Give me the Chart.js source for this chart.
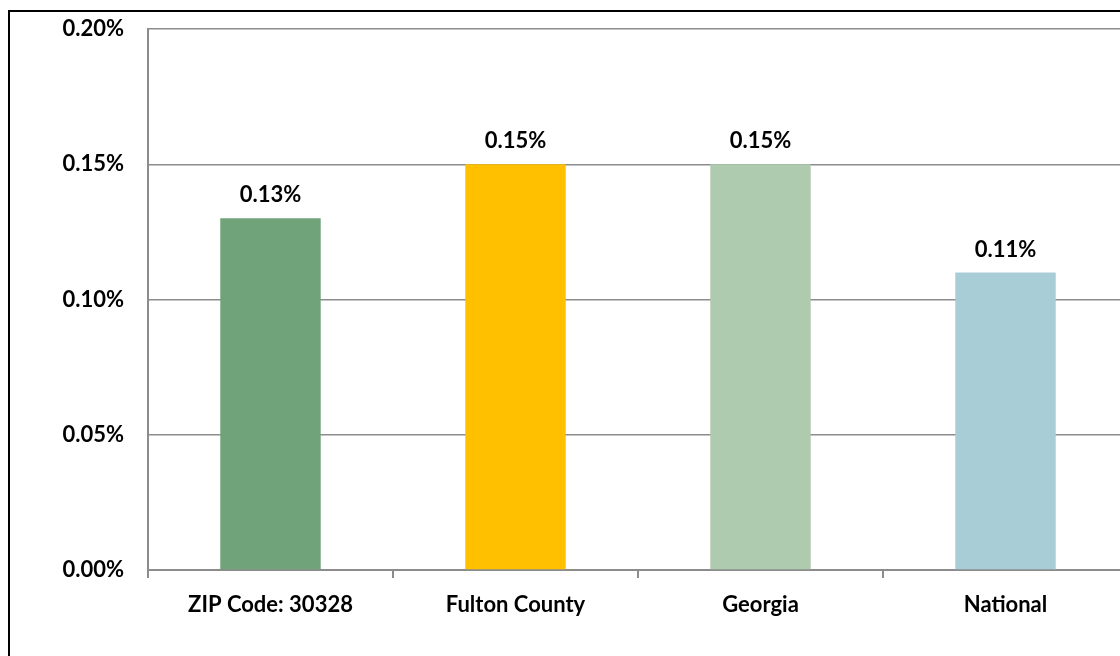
<!DOCTYPE html>
<html>
<head>
<meta charset="utf-8">
<script src="https://cdn.jsdelivr.net/npm/chart.js@4.4.1/dist/chart.umd.min.js"></script>
<style>
  html, body { margin: 0; padding: 0; background: #fff; overflow: hidden; width: 1120px; height: 656px; }
  #frame { position: absolute; left: 8px; top: 10px; width: 1200px; height: 700px; border: 2px solid #000; box-sizing: border-box; }
  #wrap { position: absolute; left: 0; top: 0; width: 1140px; height: 656px; }
</style>
</head>
<body>
<div id="frame"></div>
<div id="wrap"><canvas id="chart" width="1140" height="656"></canvas></div>
<script>
const categories = ['ZIP Code: 30328', 'Fulton County', 'Georgia', 'National'];
const rates = [0.13, 0.15, 0.15, 0.11];
const barColors = ['#71a37a', '#ffc000', '#afcbaf', '#a8cdd6'];
const yTicks = [0, 0.05, 0.10, 0.15, 0.20];

const FONT = 'Lato, "Liberation Sans", sans-serif';

// value labels above each bar
const valueLabels = {
  id: 'valueLabels',
  afterDatasetsDraw(chart) {
    const ctx = chart.ctx;
    const meta = chart.getDatasetMeta(0);
    ctx.save();
    ctx.font = 'bold 22px ' + FONT;
    ctx.fillStyle = '#000';
    ctx.textAlign = 'center';
    ctx.textBaseline = 'middle';
    meta.data.forEach((bar, i) => {
      ctx.fillText(rates[i].toFixed(2) + '%', bar.x, bar.y - 23);
    });
    ctx.restore();
  }
};

new Chart(document.getElementById('chart'), {
  type: 'bar',
  data: {
    labels: categories,
    datasets: [{
      data: rates,
      backgroundColor: barColors,
      borderWidth: 0,
      categoryPercentage: 1,
      barPercentage: 0.41
    }]
  },
  options: {
    responsive: false,
    animation: false,
    layout: { padding: { left: 0, right: 12, top: 29, bottom: 0 } },
    plugins: { legend: { display: false }, tooltip: { enabled: false } },
    scales: {
      x: {
        offset: true,
        grid: { offset: true, drawOnChartArea: false, drawTicks: true, tickLength: 8, color: '#8c8c8c', lineWidth: 2 },
        border: { display: true, color: '#8c8c8c', width: 2 },
        ticks: { color: '#000', font: { family: FONT, size: 22, weight: 'bold' }, padding: 14, maxRotation: 0 },
        afterFit(scale) { scale.height = 86; scale.paddingLeft = 0; scale.paddingRight = 0; }
      },
      y: {
        min: 0,
        max: 0.20,
        afterBuildTicks(scale) { scale.ticks = yTicks.map(v => ({ value: v })); },
        grid: { drawTicks: false, color: '#8c8c8c', lineWidth: 1.5 },
        border: { display: true, color: '#8c8c8c', width: 2 },
        ticks: {
          color: '#000',
          font: { family: FONT, size: 22, weight: 'bold' },
          padding: 24,
          callback: v => v.toFixed(2) + '%'
        },
        afterFit(scale) { scale.width = 148; scale.paddingTop = 0; scale.paddingBottom = 0; }
      }
    }
  },
  plugins: [valueLabels]
});
</script>
</body>
</html>
